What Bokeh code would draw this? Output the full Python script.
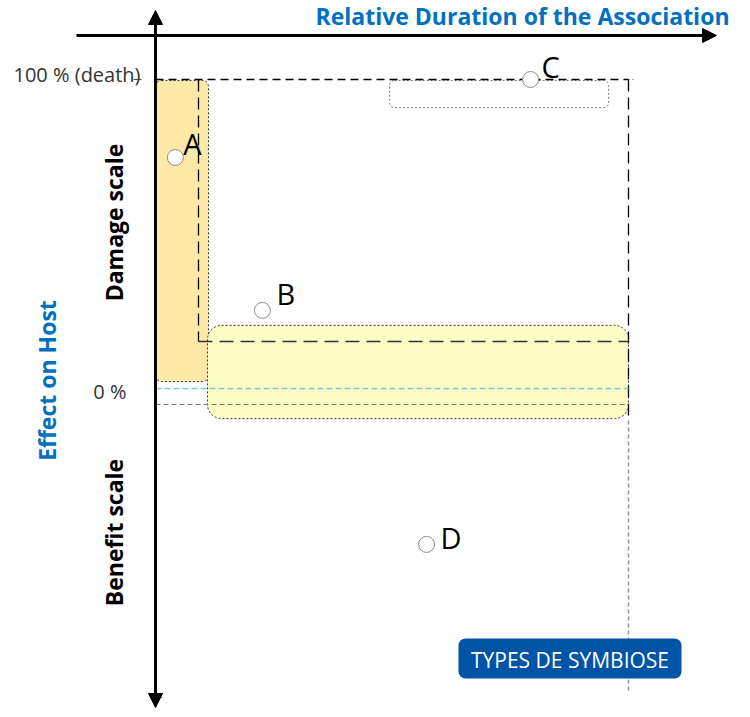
import math
from bokeh.plotting import figure
from bokeh.models import Range1d, Arrow, NormalHead, ColumnDataSource
from bokeh.core.properties import value
from bokeh.embed import file_html
from bokeh.resources import INLINE

# ---- data (duration: 0-100 relative, effect: % damage, negative = benefit)
point_labels = ["A", "B", "C", "D"]
point_duration = [4.2, 22.6, 79.3, 57.3]
point_effect = [75.0, 26.0, 100.0, -49.0]

region_names = ["A", "B", "C"]
region_left = [0.0, 11.0, 49.5]
region_right = [11.2, 100.0, 95.8]
region_top = [99.7, 21.2, 99.7]
region_bottom = [3.2, -8.7, 91.0]

tick_labels = ["100 % (death)", "0 %"]
tick_values = [100.0, 0.0]

# ---- layout mapping (picture pixels -> data units)
W, H = 742, 709
OFF = 0
PX0, PX100 = 155, 628
PY0, PY100 = 391, 79
sx = (PX100 - PX0) / 100.0
sy = (PY0 - PY100) / 100.0


def dx(px):
    return (px - PX0) / sx


def dy(py):
    return (PY0 - py) / sy


p = figure(width=W, height=H, output_backend="svg", toolbar_location=None,
           x_range=Range1d(dx(OFF), dx(OFF + W)), y_range=Range1d(dy(OFF + H), dy(OFF)),
           min_border=0, tools="")
p.axis.visible = False
p.grid.visible = False
p.outline_line_color = None
p.background_fill_color = "white"

FONT = value("Open Sans")

# ---- region boxes
p.quad(left=[region_left[0]], right=[region_right[0]], top=[region_top[0]], bottom=[region_bottom[0]],
       fill_color="#FFE9A6", line_color="#333333", line_dash="2 2", line_width=1, border_radius=6)
p.quad(left=[region_left[1]], right=[region_right[1]], top=[region_top[1]], bottom=[region_bottom[1]],
       fill_color="#FFFCC6", line_color="#333333", line_dash="2 2", line_width=1, border_radius=14)
p.quad(left=[region_left[2]], right=[region_right[2]], top=[region_top[2]], bottom=[region_bottom[2]],
       fill_color=None, line_color="#777777", line_dash="2 2", line_width=1, border_radius=5)

# ---- guide lines
para_x = dx(198)
para_y = dy(341)
p.line([region_left[0], 100], [100, 100], line_color="black", line_dash="8 5", line_width=1.3)
p.line([100, dx(636)], [100, 100], line_color="#555555", line_dash="1 3", line_width=1)
p.line([100, 100], [100, dy(420)], line_color="black", line_dash="12 6", line_width=1.3)
p.line([100, 100], [dy(420), dy(690)], line_color="#999999", line_dash="4 3", line_width=1.5)
p.line([para_x, para_x], [100, para_y], line_color="black", line_dash="12 6", line_width=1.3)
p.line([para_x, 100], [para_y, para_y], line_color="#333333", line_dash="14 7", line_width=1.3)
p.line([0, 100], [dy(388), dy(388)], line_color="#7FC8E0", line_dash="6 3", line_width=1.3)
p.line([0, 100], [dy(404), dy(404)], line_color="#777777", line_dash="5 3", line_width=1.2)

# ---- axes arrows
p.add_layout(Arrow(end=NormalHead(size=14, fill_color="black", line_color="black"),
                   x_start=dx(76), y_start=dy(35), x_end=dx(716), y_end=dy(35),
                   line_width=3, line_color="black"))
p.add_layout(Arrow(start=NormalHead(size=14, fill_color="black", line_color="black"),
                   end=NormalHead(size=14, fill_color="black", line_color="black"),
                   x_start=0, y_start=dy(707), x_end=0, y_end=dy(10),
                   line_width=3, line_color="black"))
p.line([0, dx(162)], [dy(697), dy(697)], line_color="#888888", line_width=1)
p.line([dx(133), dx(141)], [tick_values[0], tick_values[0]], line_color="#555555", line_width=1)

# ---- tick labels
p.text(x=[dx(140), dx(126)], y=[tick_values[0] + dy(74) - dy(79), tick_values[1]], text=tick_labels,
       text_font=FONT, text_font_size="20px", text_color="#333333",
       text_align="right", text_baseline="middle")

# ---- points
src = ColumnDataSource(dict(x=point_duration, y=point_effect, label=point_labels))
p.scatter("x", "y", source=src, marker="circle", size=16, fill_color="white",
          line_color="#8C8C8C", line_width=1)
label_dx_px = [8, 14, 11, 14]
label_dy_px = [-14, -17, -13, -7]
p.text(x=[v + o / sx for v, o in zip(point_duration, label_dx_px)],
       y=[v - o / sy for v, o in zip(point_effect, label_dy_px)], text=point_labels,
       text_font=FONT, text_font_size="29px", text_color="black",
       text_align="left", text_baseline="middle")

# ---- titles
p.text(x=[dx(729)], y=[dy(15)], text=["Relative Duration of the Association"],
       text_font=FONT, text_font_style="bold", text_font_size="23px",
       text_color="#0070C0", text_align="right", text_baseline="middle")
p.text(x=[dx(46)], y=[dy(380)], text=["Effect on Host"], angle=math.pi / 2,
       text_font=FONT, text_font_style="bold", text_font_size="23px",
       text_color="#0070C0", text_align="center", text_baseline="middle")
p.text(x=[dx(113), dx(113)], y=[dy(222), dy(532)], text=["Damage scale", "Benefit scale"],
       angle=math.pi / 2, text_font=FONT, text_font_style="bold",
       text_font_size="23px", text_color="black", text_align="center", text_baseline="middle")

# ---- button
p.quad(left=[dx(458)], right=[dx(681)], top=[dy(638)], bottom=[dy(678)],
       fill_color="#0054A6", line_color=None, border_radius=7)
p.text(x=[dx(569.5)], y=[dy(659)], text=["TYPES DE SYMBIOSE"],
       text_font=FONT, text_font_size="21px", text_color="white",
       text_align="center", text_baseline="middle")

open("out.html", "w").write(file_html(p, INLINE))
